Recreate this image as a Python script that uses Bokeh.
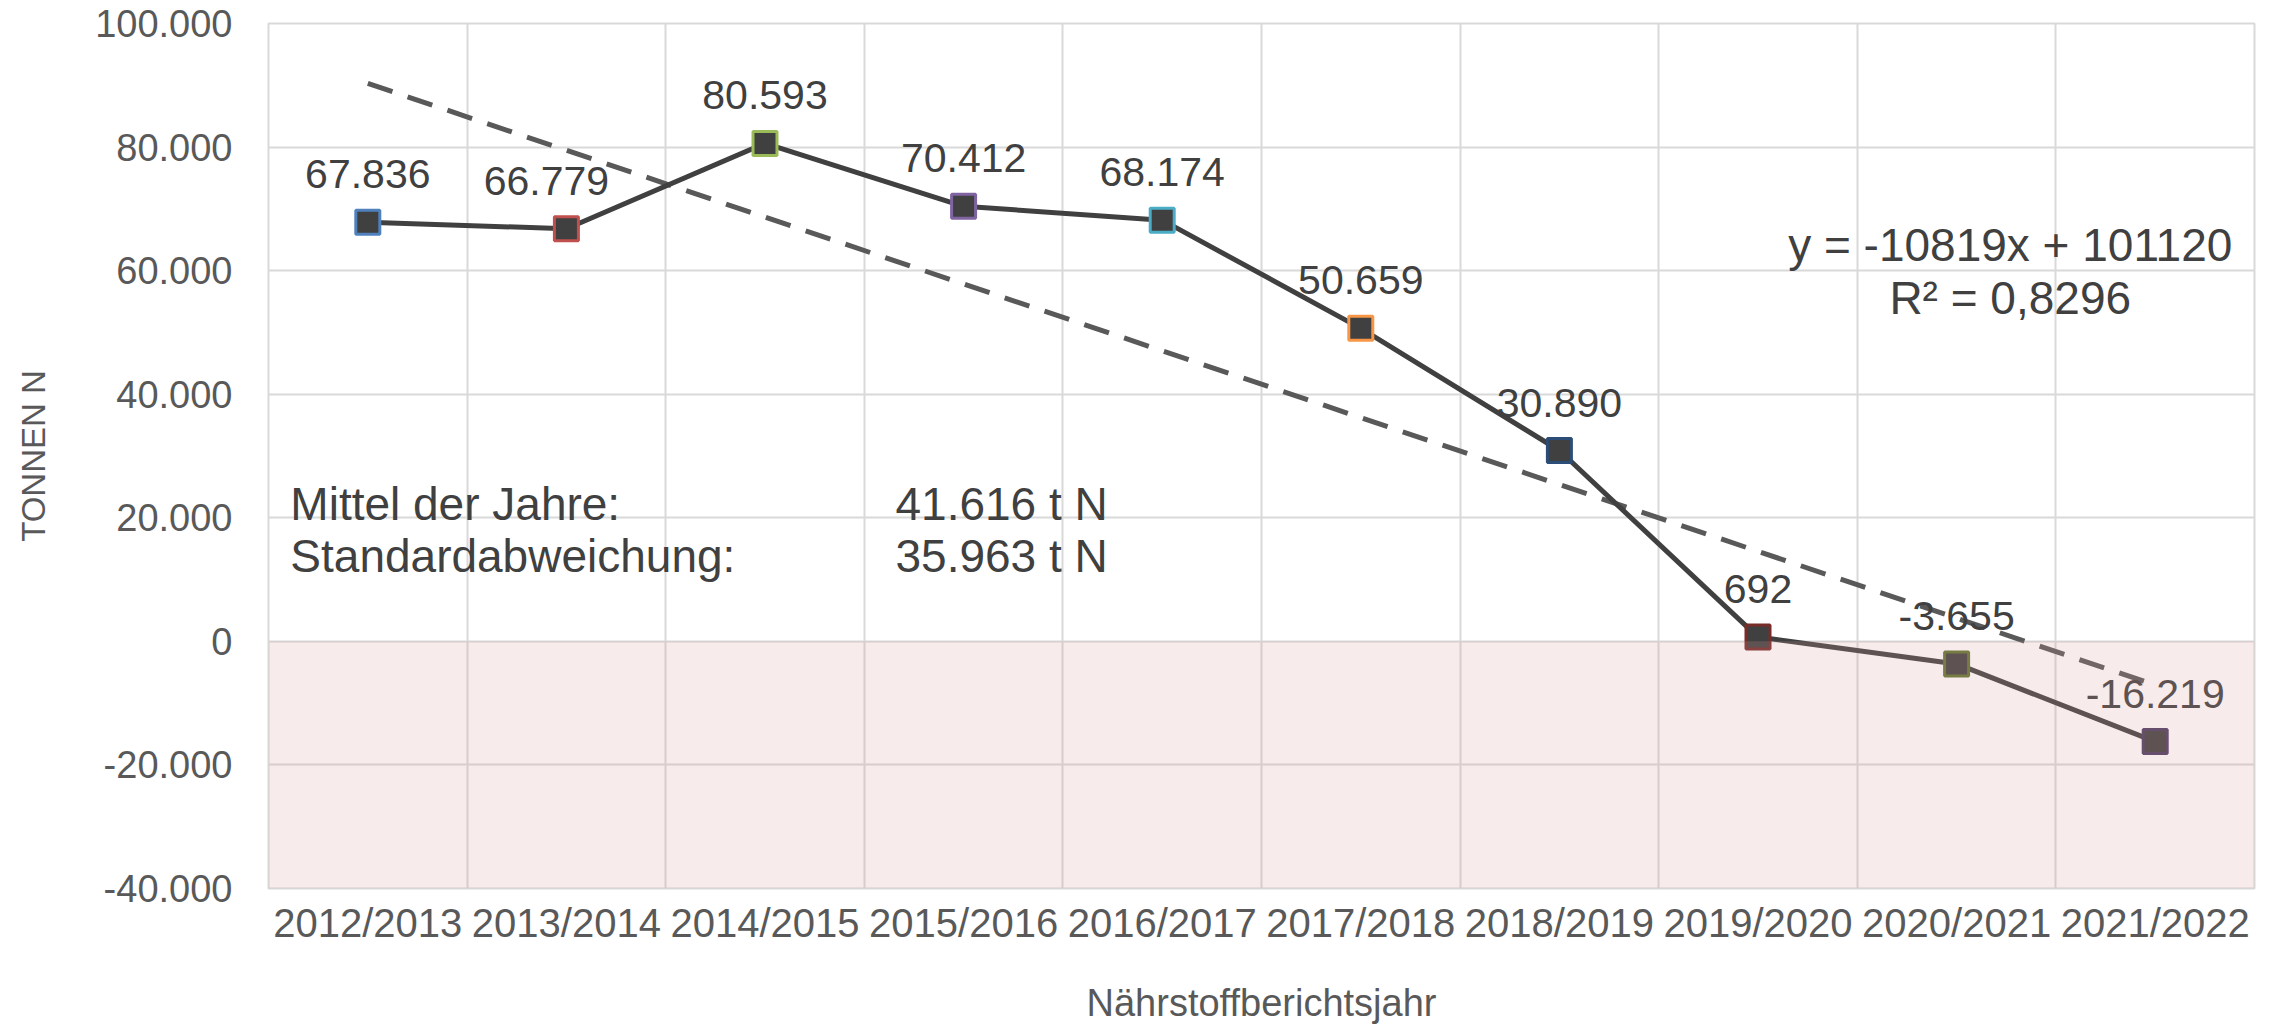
from bokeh.plotting import figure
from bokeh.models import FactorRange, FixedTicker, Label, BoxAnnotation, ColumnDataSource
from bokeh.core.properties import value
from bokeh.embed import file_html
from bokeh.resources import INLINE

# ---- data ----
categories = ["2012/2013", "2013/2014", "2014/2015", "2015/2016", "2016/2017",
              "2017/2018", "2018/2019", "2019/2020", "2020/2021", "2021/2022"]
saldo_t_n = [67836, 66779, 80593, 70412, 68174, 50659, 30890, 692, -3655, -16219]
ytick_values = [-40000, -20000, 0, 20000, 40000, 60000, 80000, 100000]
ytick_labels = ["-40.000", "-20.000", "0", "20.000", "40.000", "60.000", "80.000", "100.000"]
trend_slope = -10819
trend_intercept = 101120
trend_text = "y = -10819x + 101120"
r2_text = "R\u00b2 = 0,8296"
stats_names = ["Mittel der Jahre:", "Standardabweichung:"]
stats_values = ["41.616 t N", "35.963 t N"]

# ---- styles ----
FONT = "Liberation Sans"
marker_outline = ["#4F81BD", "#C0504D", "#9BBB59", "#8064A2", "#4BACC6",
                  "#F79646", "#2C4D75", "#772C2A", "#5F7530", "#4D3B62"]
label_dx = [0, -20, 0, 0, 0, 0, 0, 0, 0, 0]

def de_fmt(v):
    return f"{v:,}".replace(",", ".")

src = ColumnDataSource(dict(
    x=categories, y=saldo_t_n, lab=[de_fmt(v) for v in saldo_t_n],
    oc=marker_outline, dx=label_dx))

p = figure(x_range=FactorRange(*categories), y_range=(-40000, 100000),
           width=2272, height=1028, output_backend="svg", toolbar_location=None,
           min_border_left=268, min_border_right=18, min_border_top=23,
           min_border_bottom=140)
p.background_fill_color = "white"
p.border_fill_color = "white"
p.outline_line_color = "#D9D9D9"
p.outline_line_width = 2

# grids
p.xgrid.ticker = FixedTicker(ticks=list(range(len(categories) + 1)))
p.ygrid.ticker = FixedTicker(ticks=ytick_values)
for g in (p.xgrid, p.ygrid):
    g.grid_line_color = "#D9D9D9"
    g.grid_line_width = 2

# axes
p.yaxis.ticker = FixedTicker(ticks=ytick_values)
p.yaxis.major_label_overrides = {v: s for v, s in zip(ytick_values, ytick_labels)}
for ax in (p.xaxis, p.yaxis):
    ax.axis_line_color = None
    ax.major_tick_line_color = None
    ax.minor_tick_line_color = None
    ax.major_tick_out = 0
    ax.major_tick_in = 0
    ax.major_label_text_font = FONT
    ax.major_label_text_color = "#595959"
    ax.axis_label_text_font = FONT
    ax.axis_label_text_color = "#595959"
    ax.axis_label_text_font_style = "normal"
p.yaxis.major_label_text_font_size = "38px"
p.yaxis.major_label_standoff = 36
p.yaxis.axis_label = "TONNEN N"
p.yaxis.axis_label_text_font_size = "33px"
p.yaxis.axis_label_standoff = 40
p.xaxis.major_label_text_font_size = "40px"
p.xaxis.major_label_standoff = 12
p.xaxis.axis_label = "N\u00e4hrstoffberichtsjahr"
p.xaxis.axis_label_text_font_size = "38px"
p.xaxis.axis_label_standoff = 34

# trend line from displayed regression coefficients
trend_x = [categories[0], categories[-1]]
trend_y = [trend_intercept + trend_slope * 1, trend_intercept + trend_slope * len(categories)]
p.line(trend_x, trend_y, line_color="#595959", line_width=5, line_dash="26 16")

# data line and markers
p.line("x", "y", source=src, line_color="#404040", line_width=5)
p.scatter("x", "y", source=src, marker="square", size=24, fill_color="#404040",
          line_color="oc", line_width=3)
p.text("x", "y", text="lab", source=src, x_offset="dx", y_offset=-48,
       text_align="center", text_baseline="alphabetic",
       text_font=value(FONT), text_font_size="41px", text_color="#404040")

# annotations
for i, (nm, vl) in enumerate(zip(stats_names, stats_values)):
    yy = 22200 - i * 8430
    p.add_layout(Label(x=0.11, y=yy, text=nm, text_font=FONT, text_font_size="46px",
                       text_color="#404040", text_baseline="alphabetic"))
    p.add_layout(Label(x=3.157, y=yy, text=vl, text_font=FONT, text_font_size="46px",
                       text_color="#404040", text_baseline="alphabetic"))
p.add_layout(Label(x=8.77, y=64100, text=trend_text, text_font=FONT, text_font_size="46px",
                   text_color="#404040", text_align="center", text_baseline="alphabetic"))
p.add_layout(Label(x=8.77, y=55500, text=r2_text, text_font=FONT, text_font_size="46px",
                   text_color="#404040", text_align="center", text_baseline="alphabetic"))

# translucent pink band over the negative range
p.add_layout(BoxAnnotation(top=0, fill_color="#D89D9D", fill_alpha=0.2,
                           line_color=None, level="overlay"))

open("out.html", "w").write(file_html(p, INLINE))
